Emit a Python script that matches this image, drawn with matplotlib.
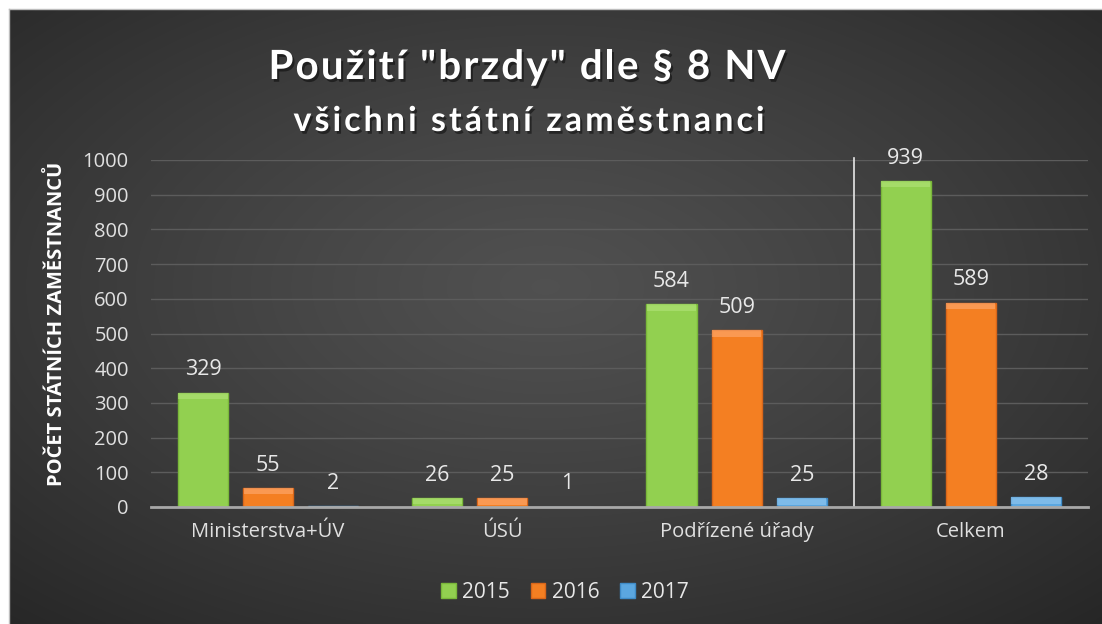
import numpy as np
import matplotlib
matplotlib.use("Agg")
import matplotlib.pyplot as plt
import matplotlib.patheffects as pe
from matplotlib.font_manager import FontProperties

categories = ["Ministerstva+ÚV", "ÚSÚ", "Podřízené úřady", "Celkem"]
series_names = ["2015", "2016", "2017"]
v2015 = [329, 26, 584, 939]
v2016 = [55, 25, 509, 589]
v2017 = [2, 1, 25, 28]
yticks = [0, 100, 200, 300, 400, 500, 600, 700, 800, 900, 1000]
title = 'Použití "brzdy" dle § 8 NV'
subtitle = "všichni státní zaměstnanci"
ylabel = "POČET STÁTNÍCH ZAMĚSTNANCŮ"

colors = ["#92D050", "#F47F22", "#5BA7E0"]
edge_colors = ["#7AB83A", "#D9661A", "#3F8CC8"]
top_colors = ["#B5E57E", "#FFB07A", "#9CCDF2"]

plt.rcParams['font.family'] = ['Open Sans', 'DejaVu Sans']

W, H = 1102, 624
fig = plt.figure(figsize=(W / 100, H / 100), dpi=100, facecolor="white")
renderer = fig.canvas.get_renderer()

# dark panel background with radial gradient
bg = fig.add_axes([9 / W, 0, 1 - 9 / W, 1 - 9 / H])
bg.set_axis_off()
yy, xx = np.mgrid[0:300, 0:540]
cx, cy = 270 * 0.98, 300 * 0.45
d = np.sqrt(((xx - cx) / 540) ** 2 + ((yy - cy) / 300) ** 2)
val = 0.30 - 0.30 * np.clip(d / 0.75, 0, 1) ** 1.2
val = 0.15 + val * 0.55
img = np.dstack([val, val, val])
bg.imshow(img, aspect="auto", extent=[0, 1, 0, 1], interpolation="bilinear")
bg.set_xlim(0, 1)
bg.set_ylim(0, 1)
fig.add_artist(plt.Line2D([8.5 / W, 8.5 / W], [0, 1 - 8.5 / H], color="#bdbdbd", lw=1))
fig.add_artist(plt.Line2D([8.5 / W, 1], [1 - 8.5 / H, 1 - 8.5 / H], color="#bdbdbd", lw=1))

ax = fig.add_axes([151 / W, 1 - 507 / H, (1088 - 151) / W, (507 - 160) / H])
ax.set_facecolor("none")
ax.set_ylim(0, 1000)
ax.set_xlim(-0.5, len(categories) - 0.5)

x = np.arange(len(categories))
bw = 0.214
off = 0.278
all_vals = [v2015, v2016, v2017]
for i, (vals, c, ec, tc, name) in enumerate(zip(all_vals, colors, edge_colors, top_colors, series_names)):
    pos = x + (i - 1) * off
    ax.bar(pos, vals, width=bw, color=c, edgecolor=ec, linewidth=1, label=name, zorder=3)
    # bevel highlight on top
    hl = [min(v, 18) for v in vals]
    ax.bar(pos, hl, width=bw * 0.98, bottom=[v - h for v, h in zip(vals, hl)],
           color=tc, alpha=0.55, linewidth=0, zorder=4)
    for p, v in zip(pos, vals):
        ax.annotate(str(v), (p, v), xytext=(0, 12.5), textcoords="offset points",
                    ha="center", va="baseline", color="#e8e8e8", fontsize=15.5, zorder=5)

ax.set_yticks(yticks)
ax.set_xticks(x)
ax.set_xticklabels(categories)
ax.grid(axis="y", color="#5c5c5c", linewidth=1, zorder=0)
ax.set_axisbelow(True)
for s in ["top", "right", "left"]:
    ax.spines[s].set_visible(False)
ax.spines["bottom"].set_color("#a8a8a8")
ax.spines["bottom"].set_linewidth(2)
ax.spines["bottom"].set_zorder(6)
ax.tick_params(axis="y", length=0, colors="#e0e0e0", labelsize=14.5, pad=16)
ax.tick_params(axis="x", length=0, colors="#e0e0e0", labelsize=14.5, pad=11)
for yl in ax.get_yticklabels():
    yl.set_clip_on(False)

# separator line between groups
ax.plot([x[-2] + 0.5, x[-2] + 0.5], [0, 1005], color="#e6e6e6", lw=1.2, zorder=2, clip_on=False)

fig.text(57 / W, 1 - 324 / H, ylabel, rotation=90, ha="center", va="center",
         color="white", fontsize=14.5, fontweight="bold")

shadow = [pe.withSimplePatchShadow(offset=(1.5, -2), shadow_rgbFace="black", alpha=0.45)]


def spaced_text(s, cx_px, baseline_px, size, target_w):
    prop = FontProperties(family=['Lato', 'DejaVu Sans'], weight="bold", size=size)
    bar_w = renderer.get_text_width_height_descent("|", prop, ismath=False)[0]
    advs = []
    for k in range(len(s) + 1):
        pref = s[:k]
        w = renderer.get_text_width_height_descent(pref + "|", prop, ismath=False)[0] - bar_w
        advs.append(w)
    natural = advs[-1]
    sp = (target_w - natural) / (len(s) - 1)
    x0 = cx_px - target_w / 2
    for k, ch in enumerate(s):
        if ch == " ":
            continue
        fig.text((x0 + advs[k] + k * sp) / W, 1 - baseline_px / H, ch, ha="left", va="baseline",
                 color="white", fontproperties=prop, path_effects=shadow)


spaced_text(title, 527, 79, 29, 517)
spaced_text(subtitle, 529, 131, 24.5, 471)

fig.legend(loc="center", bbox_to_anchor=(565 / W, 1 - 592 / H), ncol=3, frameon=False,
           fontsize=15, handlelength=0.7, handleheight=0.7, handletextpad=0.3,
           columnspacing=1.0, labelcolor="#e8e8e8")

fig.savefig("out.png", dpi=100, facecolor="white")
